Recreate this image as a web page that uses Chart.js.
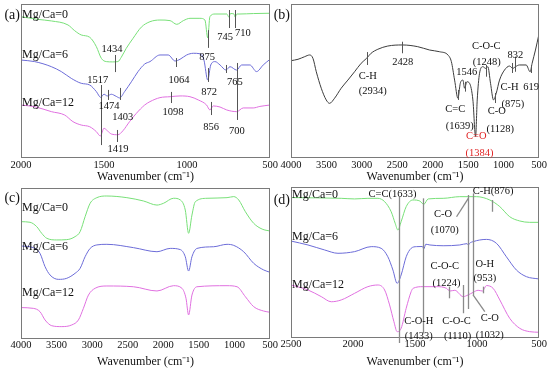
<!DOCTYPE html>
<html>
<head>
<meta charset="utf-8">
<script src="https://cdn.jsdelivr.net/npm/chart.js@4.4.0/dist/chart.umd.min.js"></script>
<style>
  body { margin: 0; background: #fff; }
  #wrap { position: relative; width: 550px; height: 370px; overflow: hidden; }
  .panel { position: absolute; }
  .panel canvas { display: block; }
</style>
</head>
<body>
<div id="wrap">
  <div class="panel" style="left:0;top:0"><canvas id="chartA" width="285" height="185"></canvas></div>
  <div class="panel" style="left:272px;top:0"><canvas id="chartB" width="278" height="185"></canvas></div>
  <div class="panel" style="left:0;top:185px"><canvas id="chartC" width="285" height="185"></canvas></div>
  <div class="panel" style="left:272px;top:185px"><canvas id="chartD" width="278" height="185"></canvas></div>
</div>
<script>
const FONT = '"Liberation Serif", "Times New Roman", serif';
const GREEN = '#78e078';
const BLUE = '#6c6cd8';
const PINK = '#e070e0';
const GREY = '#3c3c3c';

// (a) 2000-500 cm-1
const aWave0 = [2000, 1898, 1817, 1717, 1677, 1637, 1586, 1546, 1516, 1486, 1450, 1416, 1396, 1366, 1325, 1275, 1223, 1163, 1102, 1062, 1022, 982, 922, 892, 875, 862, 831, 760, 748, 738, 718, 710, 700, 681, 600, 500];
const aVal0 = [91.8, 90.0, 89.0, 86.4, 82.7, 79.9, 78.4, 72.3, 64.7, 62.6, 62.4, 62.6, 65.4, 71.2, 77.7, 85.0, 88.5, 89.6, 89.2, 86.8, 89.2, 90.7, 90.7, 89.6, 78.0, 91.8, 93.5, 93.5, 91.5, 93.8, 93.6, 91.5, 93.5, 93.5, 93.8, 94.0];
const aWave6 = [2000, 1918, 1817, 1757, 1697, 1637, 1586, 1546, 1520, 1500, 1480, 1456, 1426, 1406, 1376, 1335, 1295, 1255, 1223, 1163, 1113, 1072, 1042, 1002, 962, 922, 898, 875, 857, 831, 801, 765, 741, 701, 671, 621, 581, 541, 500];
const aVal6 = [63.6, 62.6, 59.3, 56.1, 51.7, 48.5, 47.4, 43.1, 39.4, 41.4, 40.3, 41.4, 40.0, 39.0, 43.1, 49.5, 56.1, 61.0, 62.6, 66.9, 66.9, 63.0, 64.1, 66.9, 68.0, 67.7, 63.6, 50.6, 60.4, 62.6, 60.4, 57.1, 59.3, 57.1, 60.4, 60.4, 56.1, 60.4, 64.1];
const aWave12 = [2000, 1918, 1817, 1737, 1687, 1637, 1586, 1546, 1522, 1500, 1480, 1456, 1416, 1386, 1346, 1305, 1255, 1223, 1163, 1102, 1042, 982, 932, 882, 862, 842, 801, 761, 701, 661, 601, 561, 500];
const aVal12 = [34.4, 33.3, 30.1, 27.9, 23.6, 21.4, 20.3, 17.1, 14.3, 19.3, 17.7, 15.6, 15.1, 17.7, 23.6, 29.0, 34.4, 36.6, 39.2, 39.8, 40.3, 39.8, 37.7, 34.4, 31.2, 33.8, 33.1, 31.2, 30.1, 32.5, 32.5, 33.5, 34.4];

// (b) 4000-500 cm-1
const bWave = [4000, 3901, 3807, 3737, 3690, 3643, 3573, 3503, 3456, 3385, 3292, 3197, 3103, 3010, 2934, 2870, 2775, 2634, 2428, 2212, 2043, 1902, 1785, 1737, 1691, 1644, 1611, 1574, 1550, 1518, 1480, 1433, 1395, 1372, 1339, 1292, 1254, 1222, 1184, 1142, 1104, 1057, 987, 916, 870, 832, 776, 681, 625, 597, 550, 500];
const bVal = [63.2, 64.1, 65.8, 66.9, 64.7, 56.0, 45.3, 37.7, 35.5, 38.8, 45.3, 50.6, 56.0, 61.5, 64.7, 68.0, 70.6, 72.7, 73.4, 72.3, 70.1, 69.0, 66.9, 62.6, 50.6, 38.8, 48.5, 50.6, 45.3, 49.5, 48.5, 37.7, 14.0, 37.7, 55.0, 59.3, 58.2, 59.3, 48.5, 37.7, 42.0, 50.6, 57.1, 59.7, 58.2, 59.3, 60.4, 60.4, 56.0, 61.5, 70.1, 80.5];

// (c) 4000-500 cm-1
const cWave0 = [4000, 3873, 3779, 3709, 3638, 3497, 3357, 3240, 3169, 3099, 3028, 2934, 2793, 2512, 2278, 2089, 1996, 1856, 1761, 1691, 1644, 1597, 1550, 1385, 1104, 1010, 940, 846, 729, 611, 500];
const cVal0 = [77.7, 77.3, 74.4, 70.0, 66.7, 65.6, 65.8, 67.8, 71.1, 81.0, 89.9, 93.6, 94.7, 93.6, 91.4, 88.7, 89.9, 93.2, 92.1, 85.4, 70.0, 82.1, 90.9, 93.2, 93.6, 94.3, 92.1, 84.3, 76.6, 72.8, 71.5];
const cWave6 = [4000, 3827, 3733, 3662, 3592, 3475, 3357, 3240, 3169, 3099, 3028, 2934, 2793, 2419, 2089, 1902, 1761, 1691, 1644, 1597, 1526, 1292, 1104, 1010, 870, 729, 588, 500];
const cVal6 = [61.6, 60.5, 56.7, 47.9, 42.4, 39.5, 40.2, 43.5, 46.8, 54.5, 60.0, 62.3, 62.7, 60.5, 57.8, 60.0, 59.2, 54.5, 45.0, 54.5, 60.0, 61.1, 62.7, 62.0, 57.8, 50.1, 45.7, 44.2];
const cWave12 = [4000, 3827, 3733, 3662, 3568, 3427, 3287, 3193, 3123, 3052, 2958, 2793, 2419, 2089, 1856, 1738, 1681, 1644, 1597, 1526, 1104, 963, 846, 729, 588, 500];
const cVal12 = [20.8, 20.3, 18.1, 12.6, 8.8, 8.2, 9.3, 12.6, 20.3, 29.1, 33.6, 35.1, 34.6, 31.8, 35.3, 33.6, 27.0, 15.9, 29.1, 34.6, 35.3, 34.6, 28.0, 21.4, 18.5, 17.7];

// (d) 2500-500 cm-1
const dWave0 = [2500, 2300, 2095, 1987, 1880, 1799, 1745, 1692, 1660, 1638, 1612, 1571, 1517, 1461, 1429, 1394, 1273, 1139, 1004, 897, 816, 736, 655, 575, 500];
const dVal0 = [93.0, 92.8, 92.5, 92.1, 92.5, 92.5, 90.3, 83.6, 76.0, 71.5, 77.0, 87.0, 91.4, 90.7, 88.5, 92.1, 92.5, 93.6, 93.6, 91.4, 87.0, 80.3, 77.5, 76.6, 76.6];
const dWave6 = [2500, 2363, 2229, 2121, 1987, 1853, 1773, 1719, 1678, 1644, 1612, 1571, 1531, 1488, 1440, 1429, 1413, 1380, 1273, 1139, 1080, 1070, 1060, 1032, 924, 843, 763, 682, 601, 500];
const dVal6 = [64.2, 61.6, 58.3, 56.1, 57.2, 60.5, 59.4, 53.8, 45.0, 36.2, 41.7, 53.8, 59.4, 60.5, 60.6, 59.0, 62.1, 61.6, 61.1, 61.6, 62.5, 61.5, 62.7, 63.8, 65.3, 62.7, 53.8, 45.0, 40.6, 39.1];
const dWave12 = [2500, 2363, 2256, 2175, 2095, 1987, 1880, 1799, 1745, 1705, 1670, 1644, 1612, 1571, 1531, 1515, 1434, 1326, 1246, 1219, 1179, 1112, 1072, 1032, 991, 956, 924, 870, 816, 736, 655, 575, 500];
const dVal12 = [35.1, 31.8, 27.4, 24.0, 25.2, 29.6, 34.0, 35.1, 31.8, 21.9, 10.8, 4.2, 6.4, 19.7, 30.7, 32.9, 34.0, 34.0, 32.9, 31.1, 31.6, 27.4, 28.5, 30.2, 31.6, 31.1, 34.7, 32.9, 25.2, 13.0, 6.4, 4.2, 3.8];

const seriesNames = ['Mg/Ca=0', 'Mg/Ca=6', 'Mg/Ca=12'];

// draws frame, peak markers and text labels in data coordinates
function annotate(cfg) {
    return {
        id: 'annotate',
        afterDatasetsDraw(chart) {
            const { ctx, chartArea: ca, scales: { x, y } } = chart;
            ctx.save();
            ctx.strokeStyle = '#7a7a7a';
            ctx.lineWidth = 1;
            ctx.strokeRect(Math.round(ca.left) + 0.5, Math.round(ca.top) + 0.5,
                Math.round(ca.right - ca.left) - 1, Math.round(ca.bottom - ca.top) - 1);

            ctx.strokeStyle = cfg.markColor;
            ctx.lineWidth = cfg.markWidth;
            cfg.marks.forEach(([w, y1, y2]) => {
                const px = Math.round(x.getPixelForValue(w)) + 0.5;
                ctx.beginPath();
                ctx.moveTo(px, y.getPixelForValue(y1));
                ctx.lineTo(px, y.getPixelForValue(y2));
                ctx.stroke();
            });
            (cfg.leaders || []).forEach(([w1, y1, w2, y2]) => {
                ctx.beginPath();
                ctx.moveTo(x.getPixelForValue(w1), y.getPixelForValue(y1));
                ctx.lineTo(x.getPixelForValue(w2), y.getPixelForValue(y2));
                ctx.stroke();
            });

            ctx.textBaseline = 'middle';
            ctx.textAlign = 'center';
            ctx.font = '10.5px ' + FONT;
            cfg.notes.forEach(([t, w, v, c]) => {
                ctx.fillStyle = c || '#111';
                ctx.fillText(t, x.getPixelForValue(w), y.getPixelForValue(v));
            });

            ctx.fillStyle = '#111';
            ctx.font = '12px ' + FONT;
            ctx.textAlign = 'left';
            cfg.nameY.forEach((v, i) => ctx.fillText(seriesNames[i], ca.left + 1, y.getPixelForValue(v)));

            ctx.font = '14px ' + FONT;
            ctx.textAlign = 'right';
            ctx.fillText(cfg.tag, ca.left - 1, y.getPixelForValue(cfg.tagY));
            ctx.restore();
        }
    };
}

function makeChart(id, cfg) {
    const datasets = cfg.series.map(s => ({
        data: s.wave.map((w, i) => ({ x: w, y: s.val[i] })),
        borderColor: s.color,
        borderWidth: 1,
        pointRadius: 0,
        fill: false,
        cubicInterpolationMode: 'monotone'
    }));
    new Chart(document.getElementById(id), {
        type: 'line',
        data: { datasets: datasets },
        options: {
            responsive: false,
            animation: false,
            layout: { padding: cfg.pad },
            plugins: { legend: { display: false }, tooltip: { enabled: false } },
            scales: {
                x: {
                    type: 'linear',
                    reverse: true,
                    min: cfg.min,
                    max: cfg.max,
                    afterFit: axis => { axis.height = cfg.axisH; },
                    grid: { display: false, drawTicks: false },
                    border: { display: false },
                    ticks: {
                        stepSize: 500, color: '#111', padding: cfg.tickPad, maxRotation: 0, autoSkip: false,
                        font: { family: FONT, size: 10.5 },
                        callback: v => String(v)
                    },
                    title: { display: true, text: 'Wavenumber (cm⁻¹)', color: '#111', padding: { top: 0, bottom: cfg.titlePad }, font: { family: FONT, size: 12 } }
                },
                y: { display: false, min: 0, max: 100 }
            }
        },
        plugins: [annotate(cfg)]
    });
}

makeChart('chartA', {
    min: 500, max: 2000, axisH: 27, tickPad: 1, titlePad: 1.3,
    pad: { left: 21, right: 15, top: 4, bottom: 0 },
    series: [
        { wave: aWave0, val: aVal0, color: GREEN },
        { wave: aWave6, val: aVal6, color: BLUE },
        { wave: aWave12, val: aVal12, color: PINK }
    ],
    markColor: '#555', markWidth: 1,
    marks: [[1434, 66.9, 55.8], [875, 83, 71.5], [745, 96.1, 84.4], [710, 96.1, 84.4], [1517, 47.4, 8.4],
        [1474, 44.2, 37.7], [1403, 45.5, 37.7], [1064, 64.9, 59.1], [872, 58.4, 49.4], [765, 60.4, 55.2],
        [700, 61.7, 24.7], [1098, 42.9, 35.7], [856, 36.4, 27.9], [1419, 18.2, 10.4]],
    notes: [['1434', 1452, 70.8], ['875', 879, 65.6], ['745', 771, 78.6], ['710', 663, 81.2], ['1517', 1538, 50.2],
        ['1474', 1470, 33.8], ['1403', 1387, 26.6], ['1064', 1048, 50.6], ['872', 867, 42.9], ['765', 711, 49.4],
        ['700', 699, 17.5], ['1098', 1084, 29.9], ['856', 855, 20.1], ['1419', 1416, 5.8]],
    nameY: [92.9, 66.9, 35.9],
    tag: '(a)', tagY: 92.9
});

makeChart('chartB', {
    min: 500, max: 4000, axisH: 27, tickPad: 1, titlePad: 1.3,
    pad: { left: 19, right: 11, top: 4, bottom: 0 },
    series: [{ wave: bWave, val: bVal, color: GREY }],
    markColor: '#555', markWidth: 1,
    marks: [[2934, 68.8, 60.4], [2428, 75.5, 68.0], [1546, 49.5, 43.1], [1639, 44.2, 37.7], [1248, 60.4, 52.8],
        [1128, 42.2, 35.7], [875, 61.7, 55.2], [832, 65.8, 56.0], [619, 60.4, 55.2]],
    notes: [['C-H', 2916, 53.2], ['(2934)', 2845, 43.1], ['2428', 2423, 61.9], ['1546', 1518, 56.0],
        ['C=C', 1681, 31.6], ['(1639)', 1620, 20.8], ['C=O', 1385, 14.3, '#e02424'], ['(1384)', 1339, 3.4, '#e02424'],
        ['C-O-C', 1245, 72.7], ['(1248)', 1236, 61.9], ['C-O', 1095, 30.1], ['(1128)', 1047, 18.6],
        ['832', 832, 66.9], ['C-H', 916, 45.9], ['619', 611, 45.9], ['(875)', 870, 35.1]],
    nameY: [],
    tag: '(b)', tagY: 92.9
});

makeChart('chartC', {
    min: 500, max: 4000, axisH: 31, tickPad: 0, titlePad: 0.8,
    pad: { left: 21, right: 15, top: 3, bottom: 0 },
    series: [
        { wave: cWave0, val: cVal0, color: GREEN },
        { wave: cWave6, val: cVal6, color: BLUE },
        { wave: cWave12, val: cVal12, color: PINK }
    ],
    markColor: '#555', markWidth: 1,
    marks: [],
    notes: [],
    nameY: [86.6, 61.1, 30.3],
    tag: '(c)', tagY: 93.2
});

makeChart('chartD', {
    min: 500, max: 2500, axisH: 32, tickPad: 0, titlePad: 0.8,
    pad: { left: 19, right: 11, top: 2, bottom: 0 },
    series: [
        { wave: dWave0, val: dVal0, color: GREEN },
        { wave: dWave6, val: dVal6, color: BLUE },
        { wave: dWave12, val: dVal12, color: PINK }
    ],
    markColor: '#8a8a8a', markWidth: 1.3,
    marks: [[1633, 93.6, -3.3], [1433, 92.5, 3.1], [1070, 94.7, 19.2], [1032, 95.8, 28.5], [876, 91.4, 83.6],
        [1224, 34.0, 26.3], [1110, 35.1, 16.4], [953, 34.0, 29.6]],
    leaders: [[1165, 80.3, 1070, 92.5], [1032, 28.5, 937, 17.4]],
    notes: [['C=C(1633)', 1681, 95.2], ['C-O-H', 1469, 11.3], ['(1433)', 1469, 0.9], ['C-O', 1273, 81.9],
        ['(1070)', 1260, 71.5], ['C-H(876)', 870, 96.9], ['C-O-C', 1260, 47.2], ['(1224)', 1246, 36.2],
        ['O-H', 937, 48.8], ['(953)', 937, 39.5], ['C-O-C', 1165, 11.3], ['(1110)', 1157, 0.9],
        ['C-O', 897, 13.0], ['(1032)', 897, 2.0]],
    nameY: [94.7, 67.1, 35.1],
    tag: '(d)', tagY: 91.4
});
</script>
</body>
</html>
